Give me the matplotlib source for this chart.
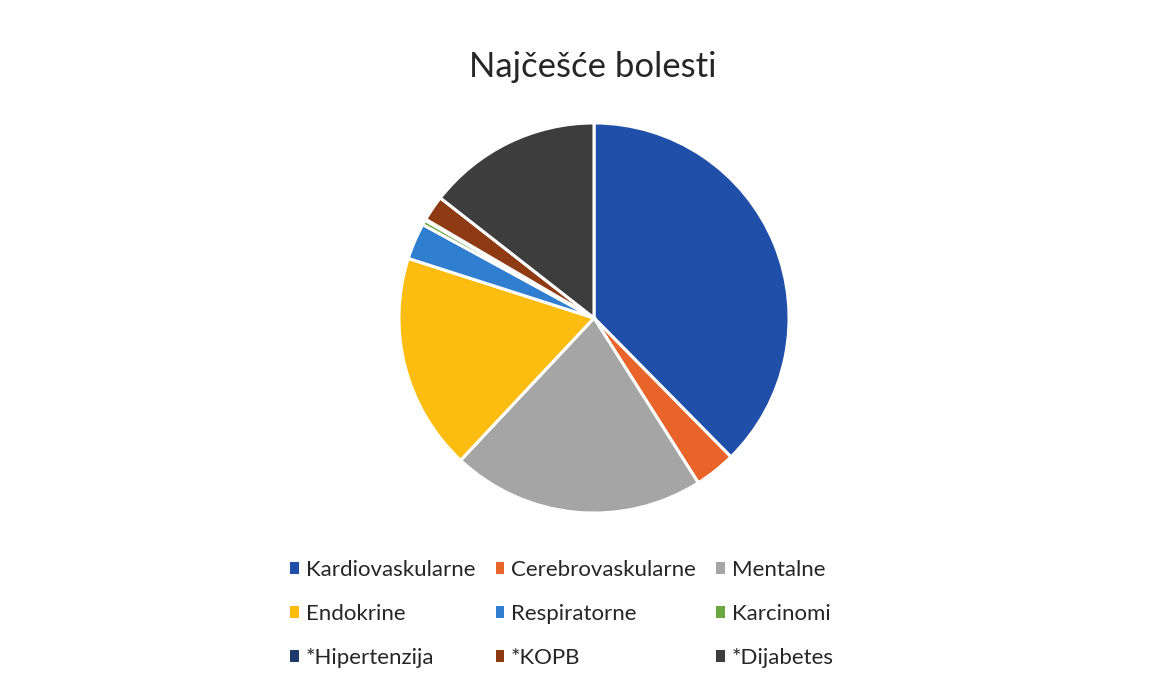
import matplotlib.pyplot as plt
from matplotlib.patches import Patch

plt.rcParams['font.family'] = ['Lato', 'DejaVu Sans']

# Data (share in %)
labels = ['Kardiovaskularne', 'Cerebrovaskularne', 'Mentalne',
          'Endokrine', 'Respiratorne', 'Karcinomi',
          '*Hipertenzija', '*KOPB', '*Dijabetes']
values = [37.5, 3.4, 20.9, 17.9, 3.0, 0.4, 0.1, 2.1, 14.4]
colors = ['#1f4fa8', '#e8642a', '#a5a5a5', '#fdbd10', '#2f7ed0',
          '#6aa842', '#1f3a6e', '#8e3a12', '#3d3d3d']

fig = plt.figure(figsize=(11.57, 6.86), dpi=100)
fig.patch.set_facecolor('white')

# pie axes: centre ~ (594, 318) px, radius ~197 px
W, H = 1157, 686
cx, cy, r = 594, 318, 197
ax = fig.add_axes([(cx - r) / W, (H - cy - r) / H, 2 * r / W, 2 * r / H])
ax.pie(values, colors=colors, startangle=90, counterclock=False,
       wedgeprops=dict(edgecolor='white', linewidth=2.2))
ax.set_xlim(-1.01, 1.01)
ax.set_ylim(-1.01, 1.01)
ax.set_aspect('equal')
ax.axis('off')

fig.text(593 / W, 1 - 67 / H, 'Najčešće bolesti', ha='center', va='center',
         fontsize=25, color='#262626')

# legend is row-major in the original, matplotlib fills column-major
handles = [Patch(facecolor=c, edgecolor='none') for c in colors]
order = [0, 3, 6, 1, 4, 7, 2, 5, 8]
fig.legend([handles[i] for i in order], [labels[i] for i in order],
           ncol=3, loc='center', bbox_to_anchor=(562 / W, 1 - 614 / H),
           frameon=False, fontsize=16, labelcolor='#262626',
           handlelength=0.4, handleheight=0.4, handletextpad=0.3,
           columnspacing=0.9, labelspacing=1.08)

fig.savefig('out.png', dpi=100)
